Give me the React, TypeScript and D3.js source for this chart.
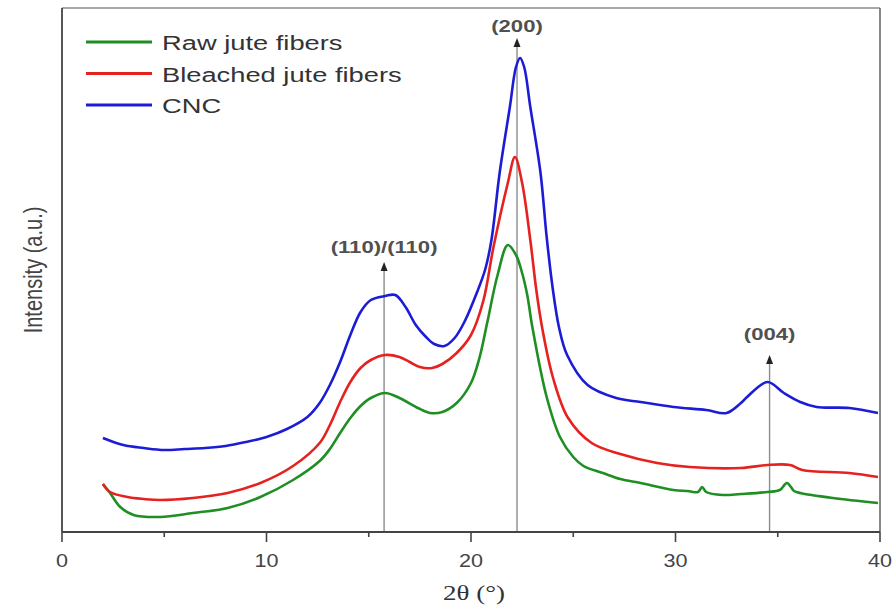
import React from "react";
import * as d3 from "d3";

const W = 893;
const H = 606;

const seriesNames = ["Raw jute fibers", "Bleached jute fibers", "CNC"];
const seriesColors = ["#1f8f24", "#e5221f", "#1c1cd6"];

// [2θ, intensity (a.u.)]
const rawJute: [number, number][] = [
  [2.0, 53], [2.35, 44], [2.85, 30], [3.5, 22], [4.8, 20], [6.4, 24], [8.1, 29], [9.7, 40],
  [11.3, 57], [12.6, 76], [13.1, 88], [13.6, 104], [14.1, 119], [14.6, 131], [15.1, 139],
  [15.8, 144], [16.5, 139], [17.4, 129], [18.0, 124], [18.6, 125], [19.3, 134], [20.0, 154],
  [20.4, 178], [20.8, 215], [21.3, 262], [21.8, 292], [22.2, 282], [22.5, 264], [22.75, 242],
  [23.0, 210], [23.7, 140], [24.35, 100], [25.0, 80], [25.5, 71], [26.45, 64], [27.3, 58], [28.3, 54],
  [29.9, 47], [30.6, 46], [31.1, 45], [31.3, 50], [31.5, 45], [32.3, 42], [33.2, 43],
  [34.5, 45], [35.1, 47], [35.45, 54], [35.8, 46], [36.1, 44], [37.7, 39], [39.9, 34],
];

const bleachedJute: [number, number][] = [
  [2.0, 53], [2.35, 45], [3.2, 40], [4.0, 38], [4.8, 37], [6.4, 39], [8.1, 44], [9.7, 54],
  [11.3, 71], [12.6, 94], [13.1, 112], [13.6, 135], [14.1, 155], [14.6, 169], [15.1, 177],
  [15.8, 182], [16.5, 180], [17.0, 175], [17.5, 170], [18.1, 169], [18.6, 173], [19.3, 184],
  [20.0, 202], [20.6, 236], [21.1, 290], [21.8, 354], [22.15, 380], [22.5, 354], [22.9, 297],
  [23.2, 246], [23.5, 207], [24.0, 160], [24.75, 119], [25.9, 94], [27.3, 83], [29.1, 74],
  [30.7, 70], [33.2, 69], [34.5, 72], [35.6, 72], [36.2, 67], [38.5, 64], [39.9, 60],
];

const cnc: [number, number][] = [
  [2.0, 99], [3.0, 92], [4.0, 89], [5.0, 87], [6.0, 88], [7.0, 89], [8.0, 91], [9.0, 95],
  [10.0, 100], [11.0, 108], [12.0, 120], [12.6, 134], [13.1, 152], [13.6, 175], [14.1, 202],
  [14.6, 225], [15.1, 237], [15.8, 241], [16.3, 242], [16.8, 230], [17.3, 212], [17.8, 200],
  [18.2, 193], [18.7, 191], [19.2, 199], [19.7, 216], [20.3, 245], [20.7, 268], [21.0, 297],
  [21.4, 364], [21.9, 430], [22.2, 470], [22.4, 479], [22.6, 470], [22.9, 430], [23.4, 364],
  [23.7, 300], [24.0, 248], [24.3, 210], [24.7, 182], [25.7, 152], [27.1, 139], [28.3, 135],
  [29.9, 130], [31.5, 127], [32.5, 124], [33.2, 134], [33.5, 140], [34.5, 155], [35.3, 144],
  [36.1, 135], [36.9, 130], [38.5, 129], [39.9, 124],
];

const seriesData = [rawJute, bleachedJute, cnc];

const majorTicks = [0, 10, 20, 30, 40];
const minorTicks = [5, 15, 25, 35];

const peakLabels = ["(110)/(110)", "(200)", "(004)"];
const peakPositions = [15.75, 22.25, 34.6];
const peakTips = [275, 499, 182];
const peakLabelLevels = [284, 505, 197];

const SX = 1.3;

export default function App() {
  const margin = { left: 62, right: 13, top: 8, bottom: 74 };
  const x = d3.scaleLinear().domain([0, 40]).range([margin.left, W - margin.right]);
  const y = d3.scaleLinear().domain([5, 529]).range([H - margin.bottom, margin.top]);
  const line = d3
    .line<[number, number]>()
    .x((d) => x(d[0]))
    .y((d) => y(d[1]))
    .curve(d3.curveCatmullRom.alpha(0.5));

  const x0 = x(0);
  const x1 = x(40);
  const yb = y(5);
  const yt = y(529);
  const font = "'Liberation Sans', Arial, sans-serif";

  return (
    <svg
      width={W}
      height={H}
      style={{ position: "absolute", left: 0, top: 0, background: "#fff" }}
      xmlns="http://www.w3.org/2000/svg"
    >
      <rect x={0} y={0} width={W} height={H} fill="#fff" />
      {/* frame */}
      <line x1={x0} y1={yt} x2={x1} y2={yt} stroke="#8a8a8a" strokeWidth={1.6} />
      <line x1={x1} y1={yt} x2={x1} y2={yb} stroke="#6a6a6a" strokeWidth={1.6} />

      {/* peak markers */}
      {peakPositions.map((p, i) => {
        const px = x(p);
        const tip = y(peakTips[i]);
        return (
          <g key={"pk" + i}>
            <line x1={px} y1={yb} x2={px} y2={tip + 4} stroke="#8c8c8c" strokeWidth={1.4} />
            <path d={`M${px},${tip} L${px - 3.5},${tip + 9} L${px + 3.5},${tip + 9} Z`} fill="#222" />
            <text
              transform={`translate(${px},${y(peakLabelLevels[i])}) scale(${SX},1)`}
              textAnchor="middle"
              fontFamily={font}
              fontSize={17}
              fontWeight="bold"
              fill="#505050"
            >
              {peakLabels[i]}
            </text>
          </g>
        );
      })}

      {/* curves */}
      {seriesData.map((s, i) => (
        <path
          key={"s" + i}
          d={line(s) || ""}
          fill="none"
          stroke={seriesColors[i]}
          strokeWidth={2.6}
          strokeLinejoin="round"
        />
      ))}

      {/* axes */}
      <line x1={x0} y1={yt} x2={x0} y2={yb} stroke="#444" strokeWidth={1.8} />
      <line x1={x0} y1={yb} x2={x1} y2={yb} stroke="#444" strokeWidth={1.8} />
      {majorTicks.map((t) => (
        <g key={"mt" + t}>
          <line x1={x(t)} y1={yb} x2={x(t)} y2={yb + 10} stroke="#444" strokeWidth={1.6} />
          <text
            transform={`translate(${x(t)},${yb + 35}) scale(1.2,1)`}
            textAnchor="middle"
            fontFamily={font}
            fontSize={18}
            fill="#444"
          >
            {t}
          </text>
        </g>
      ))}
      {minorTicks.map((t) => (
        <line key={"mn" + t} x1={x(t)} y1={yb} x2={x(t)} y2={yb + 5} stroke="#444" strokeWidth={1.6} />
      ))}

      {/* axis titles */}
      <text
        transform={`translate(${(x0 + x1) / 2 + 3},${yb + 68}) scale(1.35,1)`}
        textAnchor="middle"
        fontFamily="'Liberation Serif', 'Times New Roman', serif"
        fontSize={20}
        fill="#333"
      >
        2θ (°)
      </text>
      <text
        transform={`translate(${x0 - 20},${(yt + yb) / 2}) scale(${SX},1) rotate(-90)`}
        textAnchor="middle"
        fontFamily={font}
        fontSize={20}
        fill="#444"
      >
        Intensity (a.u.)
      </text>

      {/* legend */}
      {seriesNames.map((n, i) => {
        const ly = 42 + i * 31.5;
        return (
          <g key={"lg" + i}>
            <line x1={86} y1={ly} x2={152} y2={ly} stroke={seriesColors[i]} strokeWidth={2.8} />
            <text
              transform={`translate(162,${ly + 8}) scale(${SX},1)`}
              fontFamily={font}
              fontSize={21}
              fill="#333"
            >
              {n}
            </text>
          </g>
        );
      })}
    </svg>
  );
}
